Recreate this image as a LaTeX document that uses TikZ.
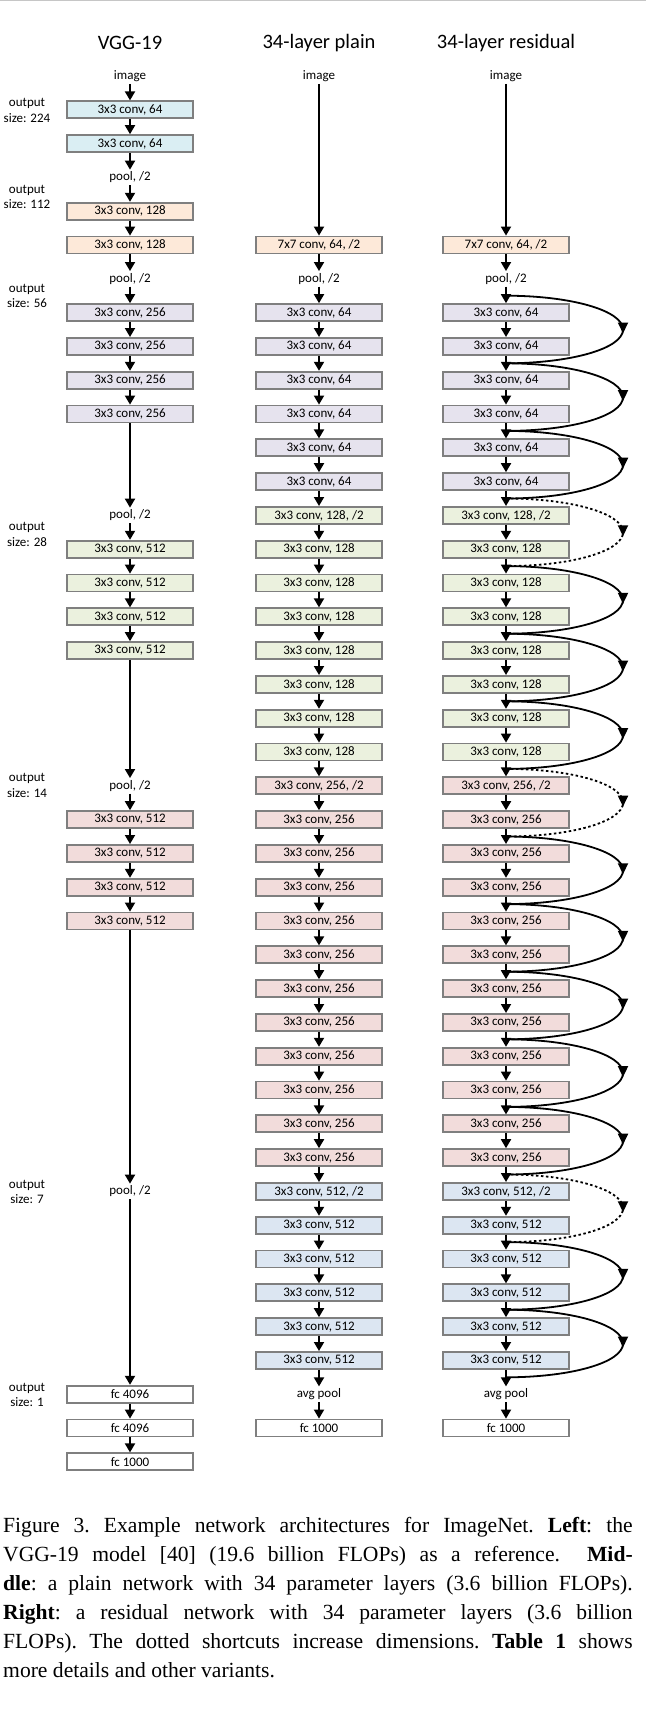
\documentclass[tikz,border=0pt]{standalone}
\usepackage{fontspec}
\setmainfont{Carlito}
\newfontfamily\capfont{Liberation Serif}
\usetikzlibrary{arrows.meta,decorations.markings}
\definecolor{cblue}{HTML}{DAEEF3}
\definecolor{corange}{HTML}{FDE9D9}
\definecolor{cpurple}{HTML}{E6E3EE}
\definecolor{cgreen}{HTML}{EBF1DE}
\definecolor{cpink}{HTML}{F2DCDB}
\definecolor{cblueb}{HTML}{DCE6F2}
\definecolor{bordergray}{HTML}{7F7F7F}
\tikzset{
  box/.style={draw=bordergray, line width=1.8pt, minimum width=126pt, minimum height=17pt, inner sep=0pt, font=\fontsize{13}{15}\selectfont},
  txt/.style={inner sep=2pt, font=\fontsize{13}{15}\selectfont},
  arr/.style={line width=1.8pt, -{Triangle[width=10pt,length=9pt]}},
  sc/.style={line width=1.8pt, decoration={markings, mark=at position 0.5 with {\arrow[xshift=4pt]{Triangle[width=10pt,length=11pt]}}}, postaction={decorate}},
  scd/.style={sc, dash pattern=on 2.5pt off 2.5pt},
  ttl/.style={inner sep=0pt, font=\fontsize{20.5}{24}\selectfont},
  outl/.style={align=center, inner sep=0pt, font=\fontsize{13}{15.5}\selectfont},
}
\newcommand\B[5]{\node[box,fill=#4] (#1) at (#2,{76+33.8*#3}) {#5};}
\newcommand\T[4]{\node[txt] (#1) at (#2,{76+33.8*#3}) {#4};}
\begin{document}
\begin{tikzpicture}[x=1pt,y=-1pt]
\useasboundingbox (0,0) rectangle (646,1710);
\draw[gray!45, line width=1.5pt] (0,0.75) -- (646,0.75);
% titles
\node[ttl] (t1) at (130,43) {VGG-19};
\node[ttl] (t2) at (319,43) {34-layer plain};
\node[ttl] (t3) at (506,43) {34-layer residual};
% output size labels
\node[outl] (o1) at (27,110.5) {output\\size: 224};
\node[outl] (o2) at (27,197) {output\\size: 112};
\node[outl] (o3) at (27,296) {output\\size: 56};
\node[outl] (o4) at (27,534.5) {output\\size: 28};
\node[outl] (o5) at (27,785.5) {output\\size: 14};
\node[outl] (o6) at (27,1192) {output\\size: 7};
\node[outl] (o7) at (27,1395) {output\\size: 1};
% VGG column
\T{l0}{130}{0}{image}
\B{l1}{130}{1}{cblue}{3x3 conv, 64}
\B{l2}{130}{2}{cblue}{3x3 conv, 64}
\T{l3}{130}{3}{pool, /2}
\B{l4}{130}{4}{corange}{3x3 conv, 128}
\B{l5}{130}{5}{corange}{3x3 conv, 128}
\T{l6}{130}{6}{pool, /2}
\foreach \k in {7,...,10}{\B{l\k}{130}{\k}{cpurple}{3x3 conv, 256}}
\T{l13}{130}{13}{pool, /2}
\foreach \k in {14,...,17}{\B{l\k}{130}{\k}{cgreen}{3x3 conv, 512}}
\T{l21}{130}{21}{pool, /2}
\foreach \k in {22,...,25}{\B{l\k}{130}{\k}{cpink}{3x3 conv, 512}}
\T{l33}{130}{33}{pool, /2}
\B{l39}{130}{39}{white}{fc 4096}
\B{l40}{130}{40}{white}{fc 4096}
\B{l41}{130}{41}{white}{fc 1000}
\foreach \a/\b in {0/1,1/2,2/3,3/4,4/5,5/6,6/7,7/8,8/9,9/10,10/13,13/14,14/15,15/16,16/17,17/21,21/22,22/23,23/24,24/25,25/33,33/39,39/40,40/41}
  {\draw[arr] (l\a.south) -- (l\b.north);}
% plain and residual columns
\foreach \p/\x in {m/319,r/506}{
  \T{\p0}{\x}{0}{image}
  \B{\p5}{\x}{5}{corange}{7x7 conv, 64, /2}
  \T{\p6}{\x}{6}{pool, /2}
  \foreach \k in {7,...,12}{\B{\p\k}{\x}{\k}{cpurple}{3x3 conv, 64}}
  \B{\p13}{\x}{13}{cgreen}{3x3 conv, 128, /2}
  \foreach \k in {14,...,20}{\B{\p\k}{\x}{\k}{cgreen}{3x3 conv, 128}}
  \B{\p21}{\x}{21}{cpink}{3x3 conv, 256, /2}
  \foreach \k in {22,...,32}{\B{\p\k}{\x}{\k}{cpink}{3x3 conv, 256}}
  \B{\p33}{\x}{33}{cblueb}{3x3 conv, 512, /2}
  \foreach \k in {34,...,38}{\B{\p\k}{\x}{\k}{cblueb}{3x3 conv, 512}}
  \T{\p39}{\x}{39}{avg pool}
  \B{\p40}{\x}{40}{white}{fc 1000}
  \draw[arr] (\p0.south) -- (\p5.north);
  \foreach \k in {5,...,39}{
    \pgfmathtruncatemacro\n{\k+1}
    \draw[arr] (\p\k.south) -- (\p\n.north);
  }
}
% shortcut junctions
\foreach \r in {7,9,...,37}{
  \pgfmathsetmacro\ys{76+33.8*(\r-0.5)}
  \pgfmathsetmacro\yc{76+33.8*(\r+0.5)}
  \pgfmathsetmacro\ye{76+33.8*(\r+1.5)}
  \coordinate (s\r) at (506,\ys);
  \coordinate (c\r) at (623,\yc);
  \coordinate (e\r) at (506,\ye);
}
\foreach \r in {7,9,11,15,17,19,23,25,27,29,31,35,37}
  {\draw[sc] (s\r) .. controls +(65,0) and +(0,-19) .. (c\r) .. controls +(0,19) and +(65,0) .. (e\r);}
\foreach \r in {13,21,33}
  {\draw[scd] (s\r) .. controls +(65,0) and +(0,-19) .. (c\r) .. controls +(0,19) and +(65,0) .. (e\r);}
% caption
\node[anchor=base west, inner sep=0pt] (cap) at (3,1532) {\parbox[t]{629.5pt}{\capfont\fontsize{21.6}{29}\selectfont\frenchspacing\hyphenpenalty=10000\tolerance=10000
Figure 3. Example network architectures for ImageNet. \textbf{Left}: the\linebreak
VGG-19 model [40] (19.6 billion FLOPs) as a reference. \ \textbf{Mid-}\linebreak
\textbf{dle}: a plain network with 34 parameter layers (3.6 billion FLOPs).\linebreak
\textbf{Right}: a residual network with 34 parameter layers (3.6 billion\linebreak
FLOPs). The dotted shortcuts increase dimensions. \textbf{Table 1} shows\linebreak
more details and other variants.}};
\end{tikzpicture}
\end{document}
